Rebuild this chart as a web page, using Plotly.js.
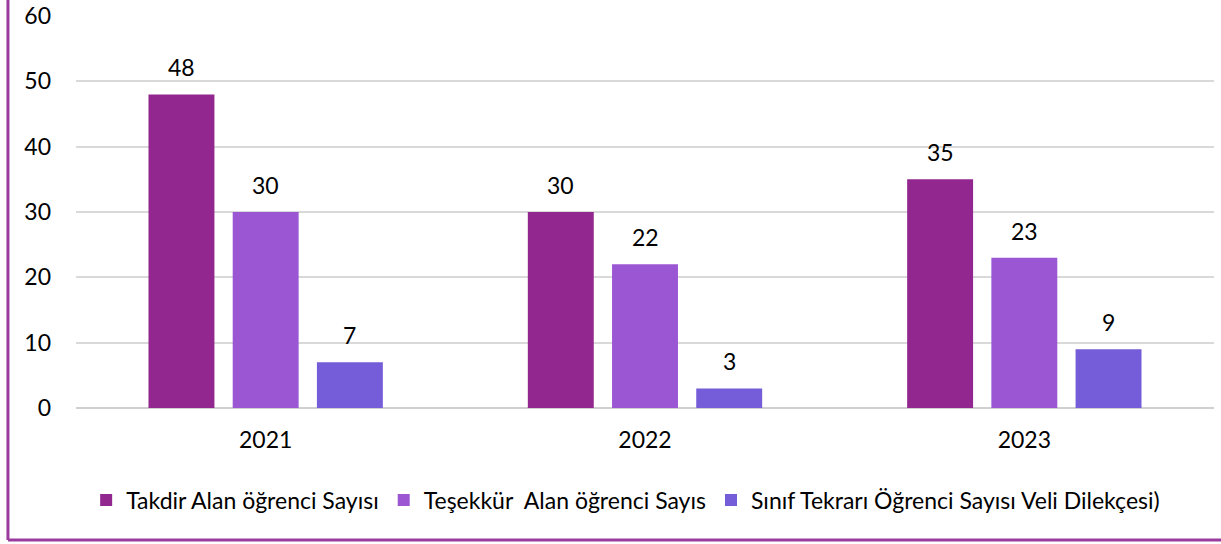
<!DOCTYPE html>
<html><head><meta charset="utf-8">
<script src="https://cdn.plot.ly/plotly-3.0.1.min.js"></script>
<style>body{margin:0;background:#fff}#c{width:1221px;height:544px}</style>
</head><body><div id="c"></div>
<script>
const years = ['2021', '2022', '2023'];
const seriesNames = ['Takdir Alan öğrenci Sayısı', 'Teşekkür \u00a0Alan öğrenci Sayıs', 'Sınıf Tekrarı Öğrenci Sayısı Veli Dilekçesi)'];
const takdir = [48, 30, 35];
const tesekkur = [30, 22, 23];
const sinifTekrari = [7, 3, 9];
const colors = ['#92278F', '#9B57D3', '#755DD9'];
const yTicks = [0, 10, 20, 30, 40, 50, 60];

const BARGAP = 0.334, GROUPGAP = 0.217;
const font = {family: 'Lato, "Open Sans", sans-serif', size: 23, color: '#000'};
const vals = [takdir, tesekkur, sinifTekrari];
const traces = vals.map((v, i) => ({
  type: 'bar', x: years, y: v, name: seriesNames[i],
  marker: {color: colors[i]}, hoverinfo: 'x+y'
}));

// value labels placed above each bar, positioned from the data arrays
const slot = (1 - BARGAP) / vals.length;
const annotations = [];
vals.forEach((v, i) => {
  v.forEach((val, j) => {
    annotations.push({
      xref: 'x', yref: 'y', x: j + (i - (vals.length - 1) / 2) * slot, y: val,
      text: String(val), showarrow: false, yanchor: 'middle', yshift: 27,
      font: font
    });
  });
});

const layout = {
  width: 1221, height: 544,
  margin: {l: 76, r: 7, t: 15, b: 136},
  paper_bgcolor: '#fff', plot_bgcolor: '#fff',
  font: font,
  barmode: 'group', bargap: BARGAP, bargroupgap: GROUPGAP,
  xaxis: {type: 'category', showgrid: false, zeroline: false, showline: false,
    ticks: '', tickfont: font, ticklabelstandoff: 16},
  yaxis: {range: [0, 60.15], tickvals: yTicks, showgrid: true, gridcolor: '#d9d9d9', gridwidth: 2,
    zeroline: true, zerolinecolor: '#d0d0d0', zerolinewidth: 2, showline: false,
    ticks: '', tickfont: font, ticklabelstandoff: 24, ticklabeloverflow: 'allow'},
  showlegend: true,
  legend: {orientation: 'h', x: 0.483, xanchor: 'center', y: -0.234, yanchor: 'middle',
    font: font, traceorder: 'normal', itemwidth: 30},
  annotations: annotations,
  shapes: [
    {type: 'line', xref: 'paper', yref: 'paper', x0: -0.0598, x1: -0.0598, y0: -0.336, y1: 1.05,
      line: {color: '#9A3C9E', width: 3}},
    {type: 'line', xref: 'paper', yref: 'paper', x0: -0.0598, x1: 1.01, y0: -0.336, y1: -0.336,
      line: {color: '#9A3C9E', width: 3}}
  ]
};
Plotly.newPlot('c', traces, layout, {displayModeBar: false, staticPlot: true});
</script></body></html>
